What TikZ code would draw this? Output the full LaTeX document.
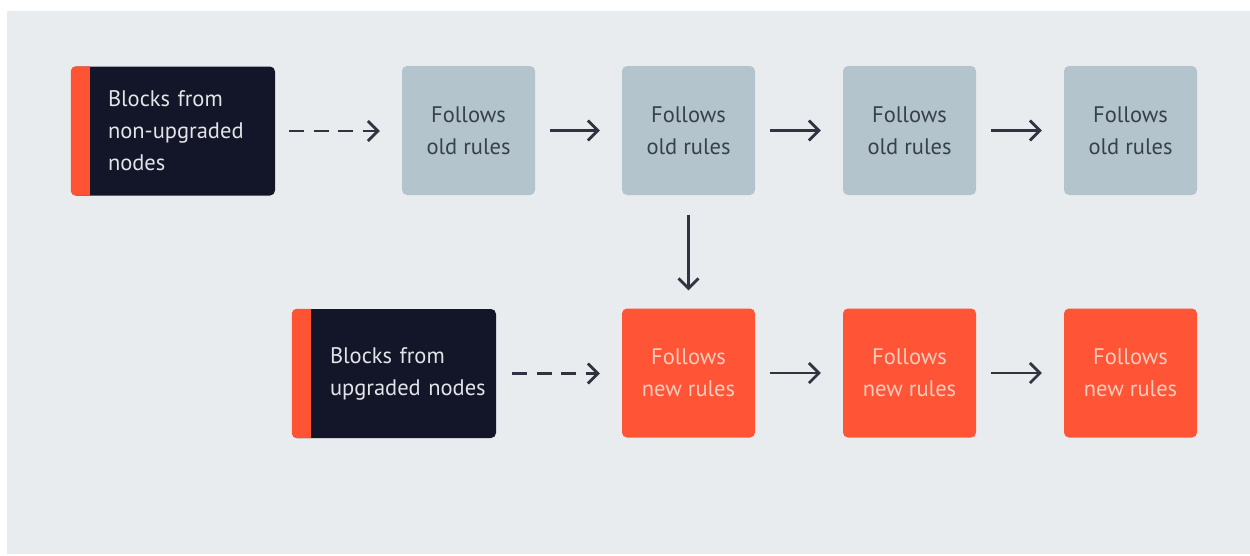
\documentclass[tikz,border=0pt]{standalone}
\usepackage{fontspec}
\setmainfont{PT Sans}
\usetikzlibrary{arrows.meta,calc}
\definecolor{bgpanel}{HTML}{E8ECEF}
\definecolor{oldfill}{HTML}{B4C4CC}
\definecolor{oldtext}{HTML}{36414B}
\definecolor{newfill}{HTML}{FF5436}
\definecolor{newtext}{HTML}{FBCDBE}
\definecolor{darkfill}{HTML}{131629}
\definecolor{darktext}{HTML}{E2E4E8}
\definecolor{accent}{HTML}{FF5433}
\definecolor{arrowcol}{HTML}{2F3440}
\tikzset{
  rulebox/.style={rectangle, rounded corners=5pt, minimum width=133pt, minimum height=129pt,
    align=center, font=\fontsize{22.5}{32}\selectfont, inner sep=0pt},
  oldbox/.style={rulebox, fill=oldfill, text=oldtext},
  newbox/.style={rulebox, fill=newfill, text=newtext},
  srcbox/.style={rectangle, rounded corners=5pt, fill=darkfill, text=darktext,
    minimum height=129pt, align=left, inner ysep=0pt,
    font=\fontsize{22.5}{32}\selectfont},
  link/.style={draw=arrowcol, line width=2.7pt,
    -{Straight Barb[length=10pt,width=20pt,line width=2.7pt]}},
  dlink/.style={link, dash pattern=on 15pt off 9.5pt},
}
\newcommand{\accentstrip}[1]{%
  \fill[accent] ($(#1.north west)+(19,0)$) [rounded corners=5pt] -- (#1.north west)
    -- (#1.south west) [sharp corners] -- ($(#1.south west)+(19,0)$) -- cycle;}
\begin{document}
\begin{tikzpicture}[x=1pt,y=-1pt]
  \useasboundingbox (0,0) rectangle (1250,555);
  \fill[white] (0,0) rectangle (1250,555);
  \fill[bgpanel] (7,11) rectangle (1250,554);

  % upper chain: blocks following the old rules
  \node[srcbox, text width=130pt, inner xsep=37pt] (src1) at (173,131)
    {Blocks from\\\mbox{non-upgraded}\\nodes};
  \accentstrip{src1}
  \node[oldbox] (o1) at (468.5,130.5) {Follows\\old rules};
  \node[oldbox] (o2) at (688.5,130.5) {Follows\\old rules};
  \node[oldbox] (o3) at (909.5,130.5) {Follows\\old rules};
  \node[oldbox] (o4) at (1130.5,130.5) {Follows\\old rules};

  % lower chain: blocks following the new rules
  \node[srcbox, text width=128pt, inner xsep=38pt] (src2) at (394,373.5)
    {Blocks from\\\mbox{upgraded nodes}};
  \accentstrip{src2}
  \node[newbox] (n1) at (688.5,373) {Follows\\new rules};
  \node[newbox] (n2) at (909.5,373) {Follows\\new rules};
  \node[newbox] (n3) at (1130.5,373) {Follows\\new rules};

  % connectors
  \draw[dlink, shorten <=14pt, shorten >=22pt] (src1.east) -- (o1.west |- src1.east);
  \draw[link, shorten <=15pt, shorten >=22pt] (o1) -- (o2);
  \draw[link, shorten <=15pt, shorten >=22pt] (o2) -- (o3);
  \draw[link, shorten <=15pt, shorten >=22pt] (o3) -- (o4);
  \draw[link, shorten <=20pt, shorten >=18pt] (o2) -- (n1);
  \draw[dlink, shorten <=16pt, shorten >=22pt] (src2.east) -- (n1.west |- src2.east);
  \draw[link, shorten <=15pt, shorten >=22pt] (n1) -- (n2);
  \draw[link, shorten <=15pt, shorten >=22pt] (n2) -- (n3);
\end{tikzpicture}
\end{document}
